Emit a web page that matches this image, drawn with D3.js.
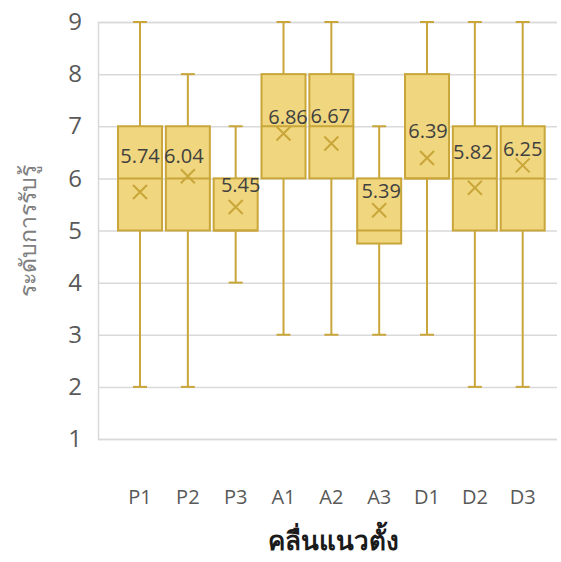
<!DOCTYPE html>
<html>
<head>
<meta charset="utf-8">
<script src="https://cdn.jsdelivr.net/npm/d3@7"></script>
<style>
  html, body { margin: 0; padding: 0; background: #fff; }
  svg { display: block; }
</style>
</head>
<body>
<svg id="chart" width="561" height="562"></svg>
<script>
// Box-plot summary per group
const categories = ["P1", "P2", "P3", "A1", "A2", "A3", "D1", "D2", "D3"];
const whiskerLow  = [2, 2, 4, 3, 3, 3, 3, 2, 2];
const quartile1   = [5, 5, 5, 6, 6, 4.75, 6, 5, 5];
const medians     = [6, 6, 5, 7, 7, 5, 6, 6, 6];
const quartile3   = [7, 7, 6, 8, 8, 6, 8, 7, 7];
const whiskerHigh = [9, 8, 7, 9, 9, 7, 9, 9, 9];
const means       = [5.74, 6.04, 5.45, 6.86, 6.67, 5.39, 6.39, 5.82, 6.25];
const yTicks      = [1, 2, 3, 4, 5, 6, 7, 8, 9];

const yTitle = "ระดับการรับรู้";
const xTitle = "คลื่นแนวตั้ง";

const rows = categories.map((c, i) => ({
  cat: c, lo: whiskerLow[i], q1: quartile1[i], med: medians[i],
  q3: quartile3[i], hi: whiskerHigh[i], mean: means[i]
}));

const svg = d3.select("#chart");
const gridLeft = 98, gridRight = 557;
const y = d3.scaleLinear().domain([1, 9]).range([439, 22]);
const x = d3.scaleBand().domain(categories).range([116.1, 546.6]).padding(0);
const boxW = x.bandwidth() * 0.92;
const capW = 14;
const cx = d => x(d) + x.bandwidth() / 2;

const fill = "#F0D67E", stroke = "#C9A63A";

// Horizontal gridlines and y tick labels
const yAxis = d3.axisLeft(y).tickValues(yTicks).tickSize(-(gridRight - gridLeft)).tickPadding(16).tickFormat(d3.format("d"));
const ya = svg.append("g").attr("transform", `translate(${gridLeft},0)`).call(yAxis);
ya.select(".domain").attr("stroke", "#d9d9d9").attr("stroke-width", 1.5);
ya.selectAll(".tick line").attr("stroke", "#d9d9d9").attr("stroke-width", 1.5);
ya.selectAll(".tick text")
  .attr("fill", "#595959")
  .style("font-family", "'Open Sans', 'Noto Sans', sans-serif")
  .style("font-size", "24px");

// X category labels
const xAxis = d3.axisBottom(x).tickSize(0).tickPadding(0);
const xa = svg.append("g").attr("transform", `translate(0,${y(1)})`).call(xAxis);
xa.select(".domain").remove();
xa.selectAll(".tick text")
  .attr("y", 65)
  .attr("dy", 0)
  .attr("fill", "#595959")
  .style("font-family", "'Open Sans', 'Noto Sans', sans-serif")
  .style("font-size", "20px");

const g = svg.append("g");

// Whiskers
g.selectAll(".whisker").data(rows).join("line")
  .attr("x1", d => cx(d.cat)).attr("x2", d => cx(d.cat))
  .attr("y1", d => y(d.lo)).attr("y2", d => y(d.hi))
  .attr("stroke", stroke).attr("stroke-width", 2);

// Whisker caps
["lo", "hi"].forEach(k => {
  g.selectAll(".cap-" + k).data(rows).join("line")
    .attr("x1", d => cx(d.cat) - capW / 2).attr("x2", d => cx(d.cat) + capW / 2)
    .attr("y1", d => y(d[k])).attr("y2", d => y(d[k]))
    .attr("stroke", stroke).attr("stroke-width", 2);
});

// Boxes
g.selectAll(".box").data(rows).join("rect")
  .attr("x", d => cx(d.cat) - boxW / 2)
  .attr("width", boxW)
  .attr("y", d => y(d.q3))
  .attr("height", d => y(d.q1) - y(d.q3))
  .attr("fill", fill).attr("stroke", stroke).attr("stroke-width", 2);

// Medians
g.selectAll(".median").data(rows).join("line")
  .attr("x1", d => cx(d.cat) - boxW / 2).attr("x2", d => cx(d.cat) + boxW / 2)
  .attr("y1", d => y(d.med)).attr("y2", d => y(d.med))
  .attr("stroke", stroke).attr("stroke-width", 2);

// Mean markers (X)
const m = 7;
g.selectAll(".mean").data(rows).join("path")
  .attr("d", d => {
    const px = cx(d.cat), py = y(d.mean);
    return `M${px - m},${py - m}L${px + m},${py + m}M${px - m},${py + m}L${px + m},${py - m}`;
  })
  .attr("stroke", stroke).attr("stroke-width", 2).attr("fill", "none");

// Mean value labels, lifted above each marker
const labelLift = [29, 13, 15, 10, 20, 12, 20, 29, 9];
const labelShift = [0, -4, 5, 4.5, -1, 2, 1, -2, 0];
g.selectAll(".mean-label").data(rows).join("text")
  .attr("x", (d, i) => cx(d.cat) + labelShift[i])
  .attr("y", (d, i) => y(d.mean) - labelLift[i])
  .attr("text-anchor", "middle")
  .attr("fill", "#404040")
  .style("font-family", "'Open Sans', 'Noto Sans', sans-serif")
  .style("font-size", "20px")
  .text(d => d3.format(".2f")(d.mean));

// Axis titles
svg.append("text")
  .attr("transform", "translate(36,231) rotate(-90)")
  .attr("text-anchor", "middle")
  .attr("fill", "#808080")
  .style("font-family", "'Noto Sans', 'DejaVu Sans', sans-serif")
  .style("font-size", "23px")
  .text(yTitle);

svg.append("text")
  .attr("x", 333).attr("y", 550)
  .attr("text-anchor", "middle")
  .attr("fill", "#1a1a1a")
  .style("font-family", "'Noto Sans', 'DejaVu Sans', sans-serif")
  .style("font-size", "26px")
  .style("font-weight", "bold")
  .text(xTitle);
</script>
</body>
</html>
